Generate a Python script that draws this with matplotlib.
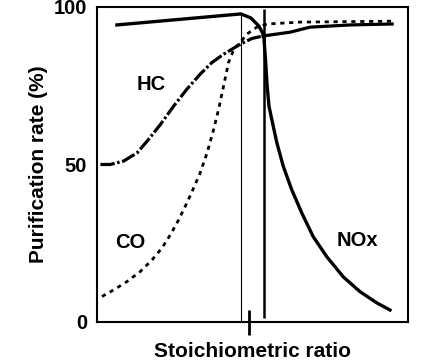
import matplotlib
matplotlib.use("Agg")
import matplotlib.pyplot as plt

plt.rcParams['font.family'] = ['Liberation Sans', 'DejaVu Sans']
plt.rcParams['font.weight'] = 'bold'

# ---- data (x in arbitrary units 0..100 across the axis, y = purification rate %) ----
hc_x = [1.1, 4.3, 8.6, 12.9, 16.1, 20.4, 24.7, 28.9, 33.2, 37.0, 40.7, 46.1, 49.8, 53.4,
        62.1, 68.5, 81.4, 94.9]
hc_y = [50.0, 50.0, 51.1, 53.7, 57.4, 62.7, 68.6, 73.9, 78.7, 82.4, 85.0, 88.2, 90.0, 90.8,
        92.0, 93.6, 94.3, 94.6]
hc_split = 13  # index where the HC curve turns solid

co_x = [1.6, 5.4, 9.6, 13.9, 17.7, 20.9, 23.6, 26.3, 28.9, 31.1, 33.2, 35.4, 37.5, 39.1,
        40.7, 42.3, 44.0, 46.1, 48.2, 51.4, 54.7, 65.3, 94.9]
co_y = [8.1, 10.2, 12.8, 16.0, 19.7, 23.5, 27.7, 32.5, 37.8, 42.6, 47.4, 53.7, 61.1, 67.5,
        74.9, 82.4, 86.6, 88.8, 91.4, 93.6, 94.6, 95.2, 95.5]

nox_x = [6.4, 46.3, 49.5, 52.0, 53.4, 53.7, 54.2, 54.7, 55.3, 56.2, 57.8, 59.9, 62.6, 65.8,
         69.5, 73.9, 79.2, 84.6, 89.9, 94.2]
nox_y = [94.3, 97.8, 96.5, 94.0, 91.5, 89.8, 83.0, 75.0, 68.5, 64.3, 57.0, 49.4, 42.0, 34.7,
         27.1, 20.7, 14.3, 9.6, 6.1, 3.8]

stoich_x = 48.9
thin_line_x, thin_line_top = 46.3, 97.8
thick_line_x, thick_line_bottom, thick_line_top = 53.7, 1.3, 99.4

yticks = [0, 50, 100]
labels = {"HC": (17.4, 75.5), "CO": (10.6, 25.2), "NOx": (83.6, 26.0)}

fig = plt.figure(figsize=(4.32, 3.6), dpi=100)
ax = fig.add_axes([0.2245, 0.1056, 0.72, 0.875])
ax.set_xlim(0, 100)
ax.set_ylim(0, 100)

# curves
ax.plot(hc_x[:hc_split + 1], hc_y[:hc_split + 1], color='black', lw=2.3,
        dashes=[4.5, 0.8, 0.8, 0.8], solid_capstyle='butt', solid_joinstyle='round')
ax.plot(hc_x[hc_split:], hc_y[hc_split:], color='black', lw=2.3, solid_joinstyle='round')
ax.plot(co_x, co_y, color='black', lw=2.0, dashes=[1.5, 1.7])
ax.plot(nox_x, nox_y, color='black', lw=2.4, solid_joinstyle='round')

# stoichiometric guide lines
ax.vlines(thin_line_x, 0, thin_line_top, color='black', lw=0.8)
ax.vlines(thick_line_x, thick_line_bottom, thick_line_top, color='black', lw=1.8)

# text labels
for name, (tx, ty) in labels.items():
    ax.text(tx, ty, name, ha='center', va='center', fontsize=14.5, fontweight='bold')

# axes styling
for s in ax.spines.values():
    s.set_linewidth(1.5)
ax.set_yticks(yticks)
ax.set_yticklabels([str(v) for v in yticks], fontsize=14.5, fontweight='bold')
ax.tick_params(axis='y', length=0, pad=7)
ax.set_xticks([stoich_x])
ax.set_xticklabels([''])
ax.tick_params(axis='x', direction='inout', length=18, width=2)
ax.set_xlabel('Stoichiometric ratio', fontsize=15, fontweight='bold', labelpad=2)
ax.set_ylabel('Purification rate (%)', fontsize=15, fontweight='bold', labelpad=4)

fig.savefig('out.png', dpi=100)
